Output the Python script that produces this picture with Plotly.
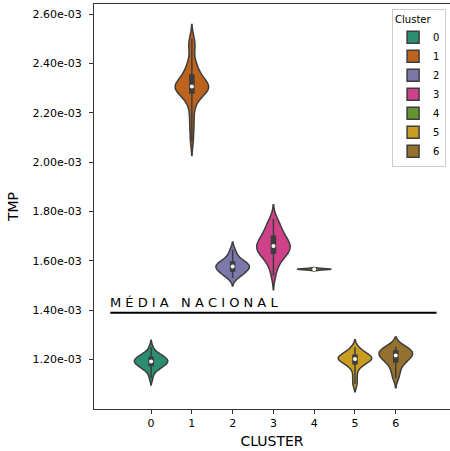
import numpy as np
import plotly.graph_objects as go

# TMP samples per cluster
clusters = [0, 1, 2, 3, 4, 5, 6]
tmp_c0 = [1.125e-3, 1.150e-3, 1.160e-3, 1.165e-3, 1.170e-3, 1.175e-3, 1.178e-3, 1.182e-3,
          1.185e-3, 1.188e-3, 1.190e-3, 1.192e-3, 1.195e-3, 1.198e-3, 1.200e-3, 1.203e-3,
          1.206e-3, 1.210e-3, 1.214e-3, 1.218e-3, 1.222e-3, 1.228e-3, 1.250e-3]
tmp_c1 = [2.085e-3, 2.135e-3, 2.170e-3, 2.210e-3, 2.240e-3, 2.255e-3, 2.268e-3, 2.278e-3,
          2.284e-3, 2.289e-3, 2.293e-3, 2.296e-3, 2.299e-3, 2.301e-3, 2.303e-3, 2.306e-3,
          2.309e-3, 2.313e-3, 2.318e-3, 2.324e-3, 2.331e-3, 2.338e-3, 2.346e-3, 2.355e-3,
          2.366e-3, 2.380e-3, 2.395e-3, 2.410e-3, 2.460e-3, 2.475e-3, 2.500e-3]
tmp_c2 = [1.530e-3, 1.540e-3, 1.546e-3, 1.551e-3, 1.556e-3, 1.561e-3, 1.565e-3, 1.569e-3,
          1.573e-3, 1.576e-3, 1.578e-3, 1.581e-3, 1.585e-3, 1.589e-3, 1.593e-3, 1.597e-3,
          1.603e-3, 1.612e-3, 1.626e-3, 1.645e-3]
tmp_c3 = [1.540e-3, 1.575e-3, 1.595e-3, 1.608e-3, 1.618e-3, 1.625e-3, 1.632e-3, 1.638e-3,
          1.643e-3, 1.648e-3, 1.652e-3, 1.656e-3, 1.660e-3, 1.665e-3, 1.670e-3, 1.676e-3,
          1.683e-3, 1.690e-3, 1.697e-3, 1.706e-3, 1.716e-3, 1.728e-3, 1.740e-3, 1.752e-3,
          1.770e-3]
tmp_c4 = [1.562e-3, 1.564e-3, 1.565e-3, 1.566e-3, 1.566e-3, 1.567e-3, 1.568e-3, 1.570e-3]
tmp_c5 = [1.100e-3, 1.130e-3, 1.160e-3, 1.175e-3, 1.183e-3, 1.189e-3, 1.194e-3, 1.198e-3,
          1.201e-3, 1.204e-3, 1.207e-3, 1.210e-3, 1.213e-3, 1.217e-3, 1.222e-3, 1.228e-3,
          1.236e-3, 1.250e-3]
tmp_c6 = [1.125e-3, 1.145e-3, 1.165e-3, 1.180e-3, 1.190e-3, 1.198e-3, 1.205e-3, 1.210e-3,
          1.214e-3, 1.218e-3, 1.222e-3, 1.226e-3, 1.230e-3, 1.235e-3, 1.240e-3, 1.245e-3,
          1.249e-3, 1.252e-3]
samples = [tmp_c0, tmp_c1, tmp_c2, tmp_c3, tmp_c4, tmp_c5, tmp_c6]

# national average reference line
national_mean = 1.39e-3
national_span = [-1, 7]
national_label = "MÉDIA NACIONAL"

ytick_vals = [1.2e-3, 1.4e-3, 1.6e-3, 1.8e-3, 2.0e-3, 2.2e-3, 2.4e-3, 2.6e-3]

# Dark2, desaturated
palette = ["#2b8e70", "#be631d", "#7c78ab", "#cf4189", "#65952f", "#c99d1f", "#95712e"]
edge = "#3d3d3d"
FONT = "DejaVu Sans"

fig = go.Figure()

for c, vals, col in zip(clusters, samples, palette):
    fig.add_trace(go.Violin(
        x=[c] * len(vals), y=vals, name=str(c), legendgroup=str(c),
        fillcolor=col, line=dict(color=edge, width=1.5), opacity=1,
        width=0.82, points=False, box_visible=False, meanline_visible=False,
        spanmode="soft", hoveron="violins",
    ))

for c, vals in zip(clusters, samples):
    fig.add_trace(go.Box(
        x=[c] * len(vals), y=vals, width=0.1, boxpoints=False,
        fillcolor=edge, line=dict(color=edge, width=1.5), whiskerwidth=0,
        showlegend=False, legendgroup=str(c),
    ))

fig.add_trace(go.Scatter(
    x=clusters, y=[float(np.median(v)) for v in samples], mode="markers",
    marker=dict(color="white", size=4, line=dict(width=0)),
    showlegend=False, hoverinfo="skip",
))

fig.add_trace(go.Scatter(
    x=national_span, y=[national_mean, national_mean], mode="lines",
    line=dict(color="black", width=2), showlegend=False, hoverinfo="skip",
))

# letter-spaced label above the reference line
spaced = "\u00a0\u00a0\u00a0".join("\u00a0".join(w) for w in national_label.split(" "))
fig.add_annotation(
    x=national_span[0], y=national_mean, xref="x", yref="y",
    text=spaced, showarrow=False, xanchor="left", yanchor="bottom", yshift=1, xshift=-2,
    font=dict(family=FONT, size=13, color="black"),
)

fig.update_layout(
    width=450, height=451,
    margin=dict(l=94, r=0, t=4, b=41.5),
    paper_bgcolor="white", plot_bgcolor="white",
    font=dict(family=FONT, size=11, color="black"),
    violinmode="overlay", boxmode="overlay",
    legend=dict(
        title=dict(text="Cluster", font=dict(size=10), side="top"),
        x=0.989, y=0.988, xanchor="right", yanchor="top",
        bordercolor="#cccccc", borderwidth=1, bgcolor="rgba(255,255,255,0.8)",
        font=dict(size=10), itemwidth=30, tracegroupgap=0,
    ),
)

fig.update_xaxes(
    range=[-1.4, 7.33], tickmode="array", tickvals=clusters,
    ticktext=[str(c) for c in clusters], tickfont=dict(size=11),
    showgrid=False, zeroline=False,
    showline=True, linecolor="#333333", linewidth=1.2, mirror=True,
    ticks="outside", ticklen=4, tickcolor="#333333",
    title=dict(text="CLUSTER", font=dict(size=14), standoff=6),
)
fig.update_yaxes(
    range=[0.9997e-3, 2.6405e-3], tickmode="array", tickvals=ytick_vals,
    ticktext=[f"{v:.2e}" for v in ytick_vals], tickfont=dict(size=11),
    ticklabelstandoff=5,
    showgrid=False, zeroline=False,
    showline=True, linecolor="#333333", linewidth=1.2, mirror=False,
    ticks="outside", ticklen=4, tickcolor="#333333",
    title=dict(text="TMP", font=dict(size=14), standoff=10),
)

fig.write_html("out.html")
